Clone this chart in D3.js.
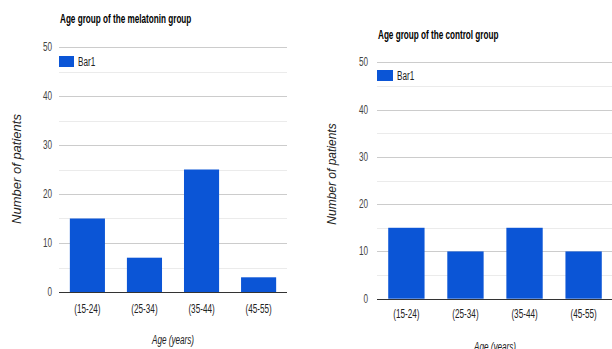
<!DOCTYPE html>
<html><head><meta charset="utf-8">
<script src="https://cdn.jsdelivr.net/npm/d3@7"></script>
<style>
html,body{margin:0;padding:0;background:#fff;}
svg{display:block;font-family:Arial,"Liberation Sans",sans-serif;}
</style></head>
<body>
<svg id="c" width="612" height="349"></svg>
<script>
const categories = ["(15-24)", "(25-34)", "(35-44)", "(45-55)"];
const melatoninValues = [15, 7, 25, 3];
const controlValues = [15, 10, 15, 10];
const yTicks = [0, 10, 20, 30, 40, 50];
const minorTicks = [5, 15, 25, 35, 45];
const seriesName = "Bar1";
const titles = ["Age group of the melatonin group", "Age group of the control group"];
const xTitle = "Age (years)";
const yTitle = "Number of patients";

const svg = d3.select("#c");
const SX = 0.68;
const BLUE = "#0b55d6";

function hText(g, x, y, txt, opts) {
  const t = g.append("text")
    .attr("transform", `translate(${x},${y}) scale(${SX},1)`)
    .attr("font-size", opts.size)
    .attr("fill", opts.fill)
    .attr("text-anchor", opts.anchor || "start")
    .text(txt);
  if (opts.weight) t.attr("font-weight", opts.weight);
  if (opts.style) t.attr("font-style", opts.style);
  if (opts.baseline) t.attr("dominant-baseline", opts.baseline);
  return t;
}

function drawChart(cfg) {
  const g = svg.append("g");
  const x = d3.scaleBand().domain(categories).range([cfg.x0, cfg.x1]).paddingInner(0.385).paddingOuter(0.19);
  const y = d3.scaleLinear().domain([0, 50]).range([cfg.y0, cfg.y50]);

  // minor grid
  g.selectAll(".mg").data(minorTicks).enter().append("line")
    .attr("x1", cfg.x0).attr("x2", cfg.x1)
    .attr("y1", d => Math.round(y(d)) + 0.5).attr("y2", d => Math.round(y(d)) + 0.5)
    .attr("stroke", "#ebebeb").attr("stroke-width", 1);
  // major grid
  g.selectAll(".Mg").data(yTicks.filter(d => d > 0)).enter().append("line")
    .attr("x1", cfg.x0).attr("x2", cfg.x1)
    .attr("y1", d => Math.round(y(d)) + 0.5).attr("y2", d => Math.round(y(d)) + 0.5)
    .attr("stroke", "#cccccc").attr("stroke-width", 1);

  // bars
  g.selectAll(".bar").data(cfg.values).enter().append("rect")
    .attr("x", (d, i) => x(categories[i]))
    .attr("width", x.bandwidth())
    .attr("y", d => y(d))
    .attr("height", d => y(0) - y(d))
    .attr("fill", BLUE);

  // baseline
  g.append("line").attr("x1", cfg.x0).attr("x2", cfg.x1)
    .attr("y1", Math.round(y(0)) + 0.5).attr("y2", Math.round(y(0)) + 0.5)
    .attr("stroke", "#333").attr("stroke-width", 1);

  // y tick labels
  yTicks.forEach(t => {
    hText(g, cfg.x0 - cfg.tickGap, y(t) + 4, String(t), {size: 12, fill: "#444", anchor: "end"});
  });
  // x tick labels
  categories.forEach(c => {
    hText(g, x(c) + x.bandwidth() / 2, cfg.xLabY, c, {size: 12, fill: "#222", anchor: "middle"});
  });

  // title
  hText(g, cfg.x0 + 1, cfg.titleY, cfg.title, {size: 12, fill: "#000", weight: "bold"});

  // legend
  g.append("rect").attr("x", cfg.x0).attr("y", cfg.legY).attr("width", cfg.legW).attr("height", cfg.legH).attr("fill", BLUE);
  hText(g, cfg.x0 + cfg.legW + 4, cfg.legY + cfg.legH - 1, seriesName, {size: 12, fill: "#222"});

  // x axis title
  hText(g, cfg.xTitleX, cfg.xTitleY, xTitle, {size: 12, fill: "#222", anchor: "middle", style: "italic"});

  // y axis title
  g.append("text")
    .attr("transform", `translate(${cfg.yTitleX},${cfg.yTitleY}) rotate(-90)`)
    .attr("font-size", cfg.yTitleSize).attr("font-style", "italic").attr("fill", "#222")
    .attr("text-anchor", "middle").attr("dominant-baseline", "central")
    .text(yTitle);
}

drawChart({values: melatoninValues, title: titles[0], x0: 59, x1: 287, y0: 292, y50: 47,
  tickGap: 7, xLabY: 313, titleY: 23, legY: 56, legW: 15, legH: 11,
  xTitleX: 173, xTitleY: 344, yTitleX: 16, yTitleY: 169, yTitleSize: 13});
drawChart({values: controlValues, title: titles[1], x0: 377, x1: 613, y0: 298.7, y50: 62.3,
  tickGap: 9, xLabY: 318, titleY: 39, legY: 70, legW: 16, legH: 11,
  xTitleX: 495, xTitleY: 351, yTitleX: 332, yTitleY: 174, yTitleSize: 12});
</script>
</body></html>
